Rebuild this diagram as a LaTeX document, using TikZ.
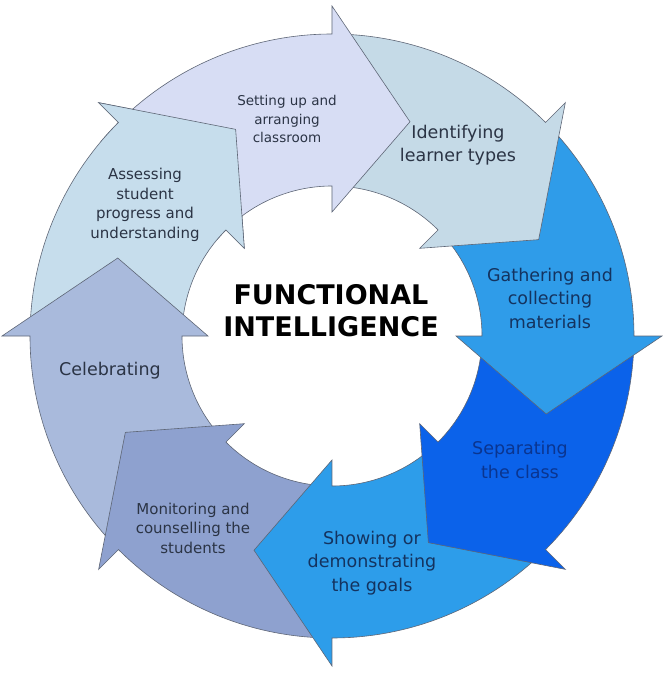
\documentclass[tikz,border=0pt]{standalone}
\usepackage{fontspec}
\setmainfont{DejaVu Sans}
\usetikzlibrary{positioning}
\definecolor{setupfill}{HTML}{D7DDF4}
\definecolor{identfill}{HTML}{C5DAE7}
\definecolor{gatherfill}{HTML}{2F9CE9}
\definecolor{separfill}{HTML}{0B62EA}
\definecolor{showfill}{HTML}{2D9DEA}
\definecolor{monitfill}{HTML}{8EA1CF}
\definecolor{celebfill}{HTML}{A9BADC}
\definecolor{assessfill}{HTML}{C6DDEC}
\definecolor{edgegray}{HTML}{5E6676}
\definecolor{inkgray}{HTML}{2B3445}
\definecolor{inknavy}{HTML}{14335F}
\definecolor{inkblue}{HTML}{0A3590}

% ring geometry
\newcommand{\ringOut}{302pt}
\newcommand{\ringIn}{150pt}
\newcommand{\barbOut}{330pt}
\newcommand{\barbIn}{124pt}
\newcommand{\tipR}{228pt}

% one curved arrow of the cycle: #1 = angle of the head base, #2 = fill
\newcommand{\cyclearrow}[2]{%
  \filldraw[ringarrow, fill=#2]
    ({#1+43.5}:\ringOut) arc[start angle={#1+43.5}, end angle=#1, radius=\ringOut]
    -- (#1:\barbOut) -- ({#1-20}:\tipR) -- (#1:\barbIn) -- (#1:\ringIn)
    arc[start angle=#1, end angle={#1+43.5}, radius=\ringIn] -- cycle;
}

\begin{document}
\begin{tikzpicture}[
    x=1pt, y=1pt,
    ringarrow/.style={draw=edgegray, line width=0.6pt, line join=miter},
    steplabel/.style={align=center, inner sep=0pt, text=inkgray},
    smalltext/.style={font=\fontsize{13.5}{18.5}\selectfont},
    midtext/.style={font=\fontsize{15}{19.5}\selectfont},
    bigtext/.style={font=\fontsize{17.5}{23.5}\selectfont}
]
    \useasboundingbox (-332,-339) rectangle (336,336);

    % Arrows, each head lying over the tail of the next one
    \foreach \base/\col in {135/assessfill, 180/celebfill, 225/monitfill, 270/showfill,
                            315/separfill, 0/gatherfill, 45/identfill, 90/setupfill} {
        \cyclearrow{\base}{\col}
    }

    % Assessing head again, over the tail of the first arrow
    \begin{scope}
        \clip (0,0) -- (108:400) -- (140:400) -- cycle;
        \cyclearrow{135}{assessfill}
    \end{scope}

    % Step labels
    \node[steplabel, smalltext] (setup) at (-45,217) {Setting up and\\arranging\\classroom};
    \node[steplabel, bigtext] (identify) at (126,191) {Identifying\\learner types};
    \node[steplabel, bigtext, text=inknavy] (gather) at (218,38) {Gathering and\\collecting\\materials};
    \node[steplabel, bigtext, text=inkblue] (separate) at (188,-124) {Separating\\the class};
    \node[steplabel, bigtext, text=inknavy] (show) at (40,-227) {Showing or\\demonstrating\\the goals};
    \node[steplabel, midtext] (monitor) at (-139,-192) {Monitoring and\\counselling the\\students};
    \node[steplabel, bigtext] (celebrate) at (-222,-35) {Celebrating};
    \node[steplabel, midtext] (assess) at (-187,131) {Assessing\\student\\progress and\\understanding};

    % Centre title
    \node[align=center, inner sep=0pt, font=\bfseries\fontsize{27}{32}\selectfont] (title) at (-1,25)
        {FUNCTIONAL\\INTELLIGENCE};
\end{tikzpicture}
\end{document}
